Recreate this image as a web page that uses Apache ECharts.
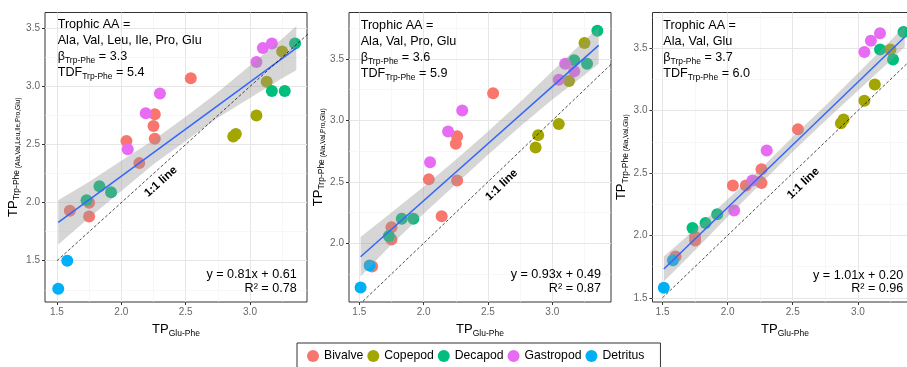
<!DOCTYPE html>
<html>
<head>
<meta charset="utf-8">
<script src="https://cdn.jsdelivr.net/npm/echarts@6/dist/echarts.min.js"></script>
<style>
html,body{margin:0;padding:0;background:#fff;}
#main{width:907px;height:367px;}
</style>
</head>
<body>
<div id="main"></div>
<script>
// species / colours (ggplot default hues)
var species = ['Bivalve', 'Copepod', 'Decapod', 'Gastropod', 'Detritus'];
var speciesColors = ['#F8766D', '#A3A500', '#00BF7D', '#E76BF3', '#00B0F6'];

// TP Glu-Phe (x), same for all panels
var xBivalve = [1.60, 1.75, 1.75, 2.04, 2.14, 2.25, 2.26, 2.26, 2.54];
var xCopepod = [2.87, 2.89, 3.05, 3.13, 3.25];
var xDecapod = [1.73, 1.83, 1.92, 3.17, 3.27, 3.35];
var xGastropod = [2.05, 2.19, 2.30, 3.05, 3.10, 3.17];
var xDetritus = [1.51, 1.58];

// panel 1 : Ala, Val, Leu, Ile, Pro, Glu
var p1Bivalve = [1.93, 2.00, 1.88, 2.53, 2.34, 2.66, 2.76, 2.55, 3.07];
var p1Copepod = [2.57, 2.59, 2.75, 3.04, 3.30];
var p1Decapod = [2.02, 2.14, 2.09, 2.96, 2.96, 3.37];
var p1Gastropod = [2.46, 2.77, 2.94, 3.21, 3.33, 3.37];
var p1Detritus = [1.26, 1.50];

// panel 2 : Ala, Val, Pro, Glu
var p2Bivalve = [1.81, 2.13, 2.03, 2.52, 2.22, 2.81, 2.87, 2.51, 3.22];
var p2Copepod = [2.78, 2.88, 2.97, 3.32, 3.63];
var p2Decapod = [2.06, 2.20, 2.20, 3.49, 3.46, 3.73];
var p2Gastropod = [2.66, 2.91, 3.08, 3.33, 3.46, 3.40];
var p2Detritus = [1.64, 1.82];

// panel 3 : Ala, Val, Glu
var p3Bivalve = [1.83, 1.99, 1.96, 2.40, 2.40, 2.43, 2.53, 2.42, 2.85];
var p3Copepod = [2.90, 2.93, 3.08, 3.21, 3.49];
var p3Decapod = [2.06, 2.10, 2.17, 3.49, 3.41, 3.63];
var p3Gastropod = [2.20, 2.44, 2.68, 3.47, 3.56, 3.62];
var p3Detritus = [1.58, 1.80];

// regression line ends and confidence band
var fitX = [1.51, 3.36];
var fit1 = [1.83, 3.33];
var fit2 = [1.89, 3.61];
var fit3 = [1.73, 3.59];
var bandX = [1.51, 1.75, 2.0, 2.25, 2.5, 2.75, 3.0, 3.25, 3.36];
var band1Lo = [1.64, 1.87, 2.10, 2.33, 2.53, 2.73, 2.90, 3.07, 3.14];
var band1Hi = [2.02, 2.18, 2.36, 2.54, 2.74, 2.95, 3.18, 3.41, 3.52];
var band2Lo = [1.73, 1.99, 2.24, 2.48, 2.72, 2.95, 3.17, 3.37, 3.46];
var band2Hi = [2.05, 2.25, 2.46, 2.68, 2.91, 3.15, 3.40, 3.65, 3.76];
var band3Lo = [1.63, 1.88, 2.15, 2.41, 2.67, 2.92, 3.16, 3.40, 3.51];
var band3Hi = [1.83, 2.05, 2.29, 2.53, 2.79, 3.04, 3.30, 3.56, 3.68];
var oneToOne = [1.5, 3.5];

// ticks / grid breaks
var xTicks = [1.5, 2.0, 2.5, 3.0];
var xMinor = [1.75, 2.25, 2.75, 3.25];
var yTicks = [1.5, 2.0, 2.5, 3.0, 3.5];
var yMinor = [1.25, 1.75, 2.25, 2.75, 3.25, 3.75];

// texts
var trophicAA = ['Ala, Val, Leu, Ile, Pro, Glu', 'Ala, Val, Pro, Glu', 'Ala, Val, Glu'];
var betaTrpPhe = ['3.3', '3.6', '3.7'];
var tdfTrpPhe = ['5.4', '5.9', '6.0'];
var equations = ['y = 0.81x + 0.61', 'y = 0.93x + 0.49', 'y = 1.01x + 0.20'];
var rSquared = ['0.78', '0.87', '0.96'];
var yTitleAA = ['(Ala,Val,Leu,Ile,Pro,Glu)', '(Ala,Val,Pro,Glu)', '(Ala,Val,Glu)'];

var FONT = '"Liberation Sans", Arial, sans-serif';

var xSpecies = [xBivalve, xCopepod, xDecapod, xGastropod, xDetritus];
var panelY = [
    [p1Bivalve, p1Copepod, p1Decapod, p1Gastropod, p1Detritus],
    [p2Bivalve, p2Copepod, p2Decapod, p2Gastropod, p2Detritus],
    [p3Bivalve, p3Copepod, p3Decapod, p3Gastropod, p3Detritus]
];
var fits = [fit1, fit2, fit3];
var bandLo = [band1Lo, band2Lo, band3Lo];
var bandHi = [band1Hi, band2Hi, band3Hi];

// layout of the three panels (pixels)
var grids = [
    {left: 45, top: 12.5, width: 262, height: 289.5},
    {left: 349, top: 12.5, width: 262, height: 289.5},
    {left: 652.5, top: 12.5, width: 265, height: 289.5}
];
var xRange = [[1.407, 3.443], [1.42, 3.456], [1.423, 3.458]];
var yRange = [[1.145, 3.636], [1.522, 3.878], [1.466, 3.787]];
var yNameGap = [23.5, 17.5, 20.5];

function zip(xs, ys) {
    var out = [];
    for (var i = 0; i < xs.length; i++) out.push([xs[i], ys[i]]);
    return out;
}

function inside(vals, r) {
    return vals.filter(function (v) { return v > r[0] && v < r[1]; });
}

// band polygon: upper edge left->right, lower edge right->left
function bandRender(lo, hi) {
    return function (params, api) {
        if (params.dataIndex !== 0) return null;
        var pts = [];
        for (var i = 0; i < bandX.length; i++) pts.push(api.coord([bandX[i], hi[i]]));
        for (var j = bandX.length - 1; j >= 0; j--) pts.push(api.coord([bandX[j], lo[j]]));
        return {
            type: 'polygon',
            shape: {points: pts},
            style: {fill: 'rgba(153,153,153,0.4)', stroke: null}
        };
    };
}

var axisRich = {
    sub: {fontSize: 8.5, fontFamily: FONT, color: '#000', verticalAlign: 'bottom', lineHeight: 8},
    sub2: {fontSize: 6.6, fontFamily: FONT, color: '#000', verticalAlign: 'bottom', lineHeight: 7}
};

var option = {
    animation: false,
    grid: [],
    xAxis: [],
    yAxis: [],
    series: [],
    graphic: [],
    legend: {
        data: species.map(function (s) { return {name: s, icon: 'circle'}; }),
        left: 297,
        top: 343,
        orient: 'horizontal',
        padding: [7, 16, 7, 10],
        itemGap: 4,
        itemWidth: 12,
        itemHeight: 12,
        borderColor: '#333',
        borderWidth: 1,
        selectedMode: false,
        textStyle: {fontSize: 12.2, fontFamily: FONT, color: '#000'}
    }
};

for (var p = 0; p < 3; p++) {
    option.grid.push({
        left: grids[p].left, top: grids[p].top, width: grids[p].width, height: grids[p].height,
        show: true, borderColor: '#333', borderWidth: 1, backgroundColor: 'transparent',
        outerBoundsMode: 'none', containLabel: false
    });
    option.xAxis.push({
        gridIndex: p, type: 'value', min: xRange[p][0], max: xRange[p][1],
        axisLine: {show: false},
        axisTick: {show: true, length: 3, customValues: xTicks, lineStyle: {color: '#333', width: 1}},
        axisLabel: {customValues: xTicks, fontSize: 10, fontFamily: FONT, color: '#666', margin: 5,
            formatter: function (v) { return v.toFixed(1); }},
        splitLine: {show: false},
        name: 'TP{sub|Glu-Phe}', nameLocation: 'middle', nameGap: 18,
        nameTextStyle: {fontSize: 13, fontFamily: FONT, color: '#000', lineHeight: 16, rich: axisRich}
    });
    option.yAxis.push({
        gridIndex: p, type: 'value', min: yRange[p][0], max: yRange[p][1],
        axisLine: {show: false},
        axisTick: {show: true, length: 3, customValues: yTicks, lineStyle: {color: '#333', width: 1}},
        axisLabel: {customValues: yTicks, fontSize: 10, fontFamily: FONT, color: '#666', margin: 5,
            formatter: function (v) { return v.toFixed(1); }},
        splitLine: {show: false},
        name: 'TP{sub|Trp-Phe}{sub2| ' + yTitleAA[p] + '}', nameLocation: 'middle', nameRotate: 90,
        nameGap: yNameGap[p],
        nameTextStyle: {fontSize: 13, fontFamily: FONT, color: '#000', lineHeight: 16, rich: axisRich}
    });

    // grid lines (major + minor)
    var gl = [];
    inside(xTicks, xRange[p]).forEach(function (v) { gl.push({xAxis: v, lineStyle: {color: '#e6e6e6', width: 1, type: 'solid'}}); });
    inside(xMinor, xRange[p]).forEach(function (v) { gl.push({xAxis: v, lineStyle: {color: '#f2f2f2', width: 0.6, type: 'solid'}}); });
    inside(yTicks, yRange[p]).forEach(function (v) { gl.push({yAxis: v, lineStyle: {color: '#e6e6e6', width: 1, type: 'solid'}}); });
    inside(yMinor, yRange[p]).forEach(function (v) { gl.push({yAxis: v, lineStyle: {color: '#f2f2f2', width: 0.6, type: 'solid'}}); });

    // points
    for (var s = 0; s < species.length; s++) {
        option.series.push({
            name: species[s], type: 'scatter', xAxisIndex: p, yAxisIndex: p,
            data: zip(xSpecies[s], panelY[p][s]),
            symbol: 'circle', symbolSize: 12, z: 2, silent: true,
            itemStyle: {color: speciesColors[s], opacity: 1}
        });
    }

    // confidence band
    option.series.push({
        type: 'custom', xAxisIndex: p, yAxisIndex: p, z: 3, silent: true,
        data: bandX.map(function (x, i) { return [x, bandLo[p][i], bandHi[p][i]]; }),
        encode: {x: 0, y: [1, 2]},
        renderItem: bandRender(bandLo[p], bandHi[p])
    });

    // fitted line
    option.series.push({
        type: 'line', xAxisIndex: p, yAxisIndex: p,
        data: zip(fitX, fits[p]), symbol: 'none', silent: true, z: 4,
        lineStyle: {color: '#3366FF', width: 1.5}
    });

    // 1:1 line, also carries the panel grid lines
    option.series.push({
        type: 'line', xAxisIndex: p, yAxisIndex: p,
        data: zip(oneToOne, oneToOne), symbol: 'none', silent: true, z: 5, clip: true,
        lineStyle: {color: '#000', width: 0.7, type: [3, 2]},
        markLine: {silent: true, symbol: 'none', label: {show: false}, z: 1, animation: false, data: gl}
    });
}

// annotation texts
var graphicRich = {sub: {fontSize: 8.5, fontFamily: FONT, fill: '#000', verticalAlign: 'bottom', lineHeight: 8}};
var topLeft = [[57.7, 17], [360.7, 18], [663.3, 18]];
var bottomRight = [[296.7, 268.3], [601, 268.3], [903.3, 268.6]];
var oneLabel = [[160.8, 181.7, 0.735], [501.7, 185, 0.763], [803.3, 183.3, 0.766]];

for (var q = 0; q < 3; q++) {
    option.graphic.push({
        type: 'text', x: topLeft[q][0], y: topLeft[q][1], z: 20, silent: true,
        style: {
            text: 'Trophic AA =\n' + trophicAA[q] + '\nβ{sub|Trp-Phe} = ' + betaTrpPhe[q] +
                '\nTDF{sub|Trp-Phe} = ' + tdfTrpPhe[q],
            fontSize: 12.6, fontFamily: FONT, fill: '#000', lineHeight: 16,
            align: 'left', verticalAlign: 'top', rich: graphicRich
        }
    });
    option.graphic.push({
        type: 'text', x: bottomRight[q][0], y: bottomRight[q][1], z: 20, silent: true,
        style: {
            text: equations[q] + '\nR² = ' + rSquared[q],
            fontSize: 12.6, fontFamily: FONT, fill: '#000', lineHeight: 13.3,
            align: 'right', verticalAlign: 'top'
        }
    });
    option.graphic.push({
        type: 'text', x: oneLabel[q][0], y: oneLabel[q][1], rotation: oneLabel[q][2], z: 20, silent: true,
        style: {
            text: '1:1 line', fontSize: 11.5, fontWeight: 'bold', fontFamily: FONT, fill: '#000',
            align: 'center', verticalAlign: 'middle'
        }
    });
}

var myChart = echarts.init(document.getElementById('main'));
myChart.setOption(option);
</script>
</body>
</html>
